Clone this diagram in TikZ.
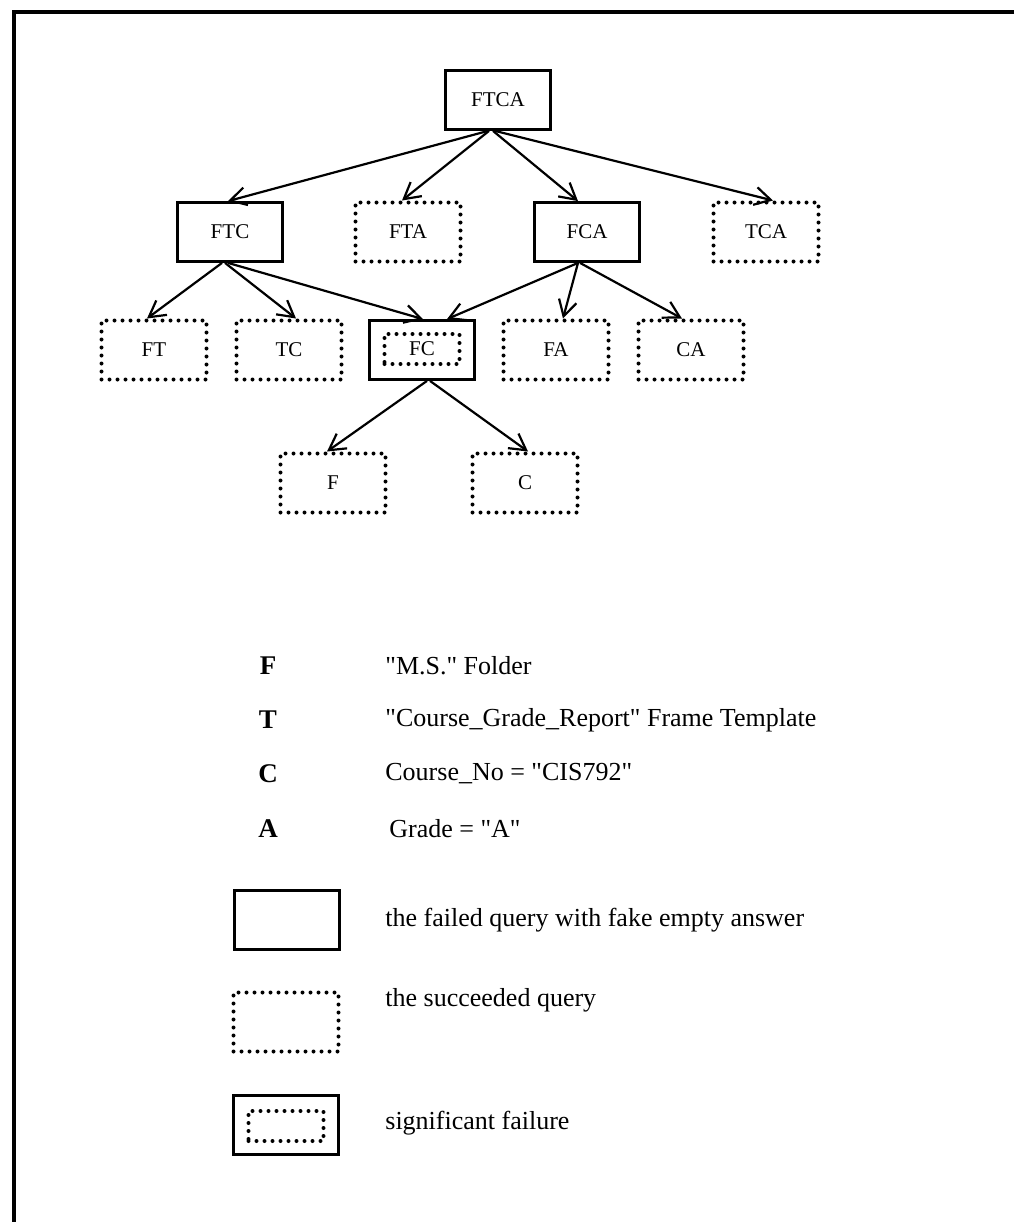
\documentclass[tikz,border=0pt]{standalone}
\usepackage{fontspec}
\setmainfont{Liberation Serif}[Ligatures=TeXOff]
\usetikzlibrary{arrows.meta,calc}
\begin{document}
\begin{tikzpicture}[x=0.5pt,y=-0.5pt,
  boxbase/.style={minimum width=52.5pt,minimum height=29.5pt,inner sep=0pt,
    font=\fontsize{10.5}{12}\selectfont},
  failbox/.style={boxbase,draw,line width=1.4pt},
  succbox/.style={boxbase,draw,line width=2pt,dash pattern=on 0pt off 4pt,line cap=round},
  innerbox/.style={succbox,minimum width=37.5pt,minimum height=15pt},
  arr/.style={-{Straight Barb[length=8pt,width=9pt]},line width=1.1pt},
  letter/.style={font=\fontsize{13.5}{15}\selectfont\bfseries,inner sep=0pt},
  legtext/.style={font=\fontsize{13}{15}\selectfont,anchor=west,inner sep=0pt}]
\useasboundingbox (0,0) rectangle (1014,1222);
\draw[line width=2pt] (1014,12) -- (14,12) -- (14,1222);

% tree
\node[failbox] (ftca) at (498,100) {FTCA};
\node[failbox] (ftc) at (230,232) {FTC};
\node[succbox] (fta) at (408,232) {FTA};
\node[failbox] (fca) at (587,232) {FCA};
\node[succbox] (tca) at (766,232) {TCA};
\node[succbox] (ft) at (154,350) {FT};
\node[succbox] (tc) at (289,350) {TC};
\node[failbox] (fc) at (422,350) {};
\node[innerbox] (fcin) at (422,349) {FC};
\node[succbox] (fa) at (556,350) {FA};
\node[succbox] (ca) at (691,350) {CA};
\node[succbox] (f) at (333,483) {F};
\node[succbox] (c) at (525,483) {C};

\draw[arr] ($(ftca.south)+(-10,0)$) -- ($(ftc.north)+(-2,0)$);
\draw[arr] ($(ftca.south)+(-9,0)$) -- ($(fta.north)+(-6,0)$);
\draw[arr] ($(ftca.south)+(-5,0)$) -- ($(fca.north)+(-9,0)$);
\draw[arr] ($(ftca.south)+(-3,0)$) -- ($(tca.north)+(7,0)$);

\draw[arr] ($(ftc.south)+(-8,0)$) -- ($(ft.north)+(-7,0)$);
\draw[arr] ($(ftc.south)+(-5,0)$) -- ($(tc.north)+(7,0)$);
\draw[arr] ($(ftc.south)+(-2,0)$) -- ($(fc.north)+(1,0)$);

\draw[arr] ($(fca.south)+(-9,0)$) -- ($(fc.north)+(25,0)$);
\draw[arr] ($(fca.south)+(-9,0)$) -- ($(fa.north)+(7,0)$);
\draw[arr] ($(fca.south)+(-7,0)$) -- ($(ca.north)+(-9,0)$);

\draw[arr] ($(fc.south)+(5,0)$) -- ($(f.north)+(-6,0)$);
\draw[arr] ($(fc.south)+(8,0)$) -- ($(c.north)+(3,0)$);

% legend
\node[letter] (lf) at (268,666) {F};
\node[letter] (lt) at (268,720) {T};
\node[letter] (lc) at (268,774) {C};
\node[letter] (la) at (268,829) {A};
\node[legtext] (tf) at (385,666) {"M.S." Folder};
\node[legtext] (tt) at (385,720) {"Course\_Grade\_Report" Frame Template};
\node[legtext] (tcc) at (385,774) {Course\_No = "CIS792"};
\node[legtext] (ta) at (389,829) {Grade = "A"};

\node[failbox] (lfail) at (287,920) {};
\node[legtext] (tfail) at (385,920) {the failed query with fake empty answer};
\node[succbox] (lsucc) at (286,1022) {};
\node[legtext] (tsucc) at (385,1000) {the succeeded query};
\node[failbox] (lsig) at (286,1125) {};
\node[innerbox] (lsigin) at (286,1126) {};
\node[legtext] (tsig) at (385,1123) {significant failure};
\end{tikzpicture}
\end{document}
